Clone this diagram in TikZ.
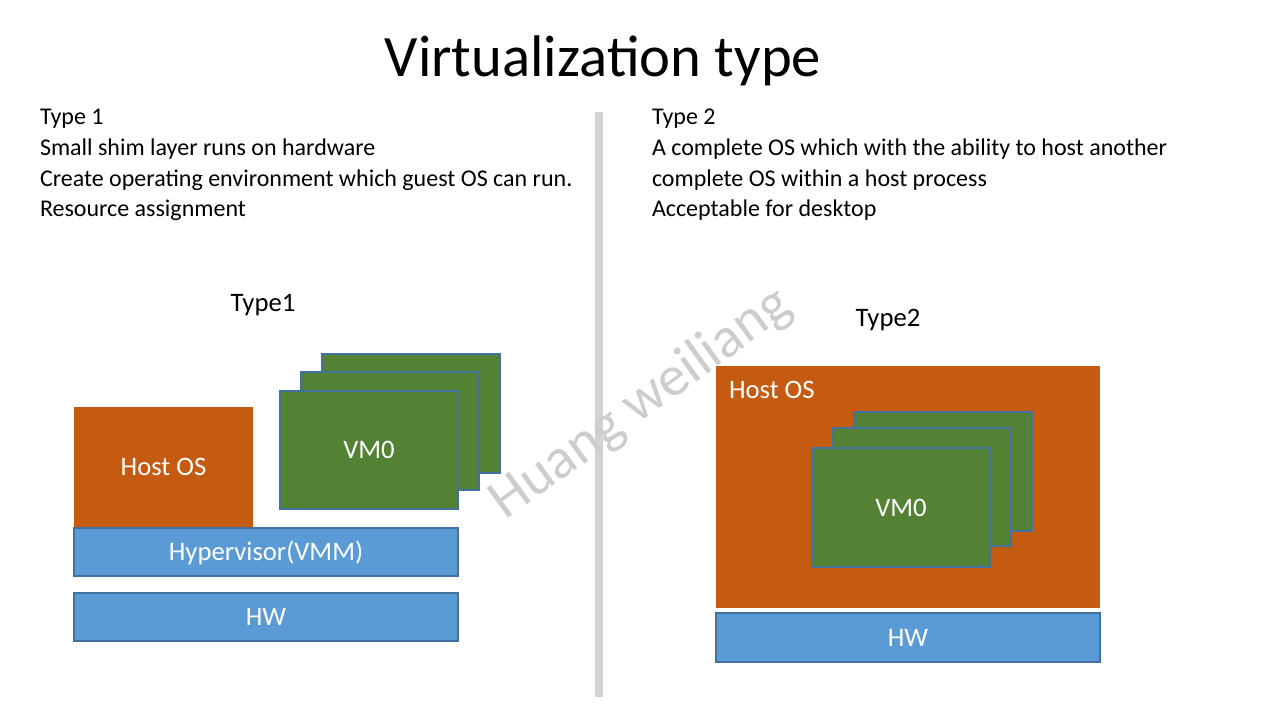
\documentclass[tikz,border=0pt]{standalone}
\usepackage{fontspec}
\setmainfont{Carlito}
\definecolor{hostorange}{HTML}{C55A11}
\definecolor{layerblue}{HTML}{5B9BD5}
\definecolor{edgeblue}{HTML}{41719C}
\definecolor{vmgreen}{HTML}{548235}
\definecolor{barGray}{HTML}{D2D2D2}
\definecolor{markGray}{HTML}{CDCDCD}
\begin{document}
\begin{tikzpicture}[x=0.75pt,y=-0.75pt,
  every node/.style={inner sep=0pt,outer sep=0pt},
  sz/.style 2 args={minimum width=#1*0.75pt,minimum height=#2*0.75pt},
  bodytext/.style={anchor=base west,font=\fontsize{18}{21.6}\selectfont},
  caption/.style={anchor=base,font=\fontsize{20}{24}\selectfont},
  blk/.style={anchor=north west,font=\fontsize{20}{24}\selectfont,text=white,
    text height=12.9pt,text depth=0pt},
  layer/.style={blk,fill=layerblue,draw=edgeblue,line width=1.4pt},
  vmbox/.style={blk,fill=vmgreen,draw=edgeblue,line width=1.4pt},
  hostbox/.style={blk,fill=hostorange}
]
\useasboundingbox (0,0) rectangle (1280,720);

% title
\node[anchor=base,font=\fontsize{44}{52}\selectfont] (title) at (603,77) {Virtualization type};

% divider between the two columns
\fill[barGray] (595,112) rectangle (603,697);

% description, left column
\node[bodytext] (l1) at (40,125) {Type 1};
\node[bodytext] (l2) at (40,155.7) {Small shim layer runs on hardware};
\node[bodytext] (l3) at (40,186.4) {Create operating environment which guest OS can run.};
\node[bodytext] (l4) at (40,217) {Resource assignment};

% description, right column
\node[bodytext] (r1) at (652,125) {Type 2};
\node[bodytext] (r2) at (652,155.7) {A complete OS which with the ability to host another};
\node[bodytext] (r3) at (652,186.4) {complete OS within a host process};
\node[bodytext] (r4) at (652,217) {Acceptable for desktop};

% ---- Type 1 stack ----
\node[caption] (cap1) at (263,311) {Type1};
\node[hostbox,sz={179}{120}] (host1) at (74,407) {Host OS};
\node[layer,sz={384}{48}] (hyp) at (74,528) {Hypervisor(VMM)};
\node[layer,sz={384}{48}] (hw1) at (74,593) {HW};
\node[vmbox,sz={178}{119}] (vm1c) at (322,354) {};
\node[vmbox,sz={178}{118}] (vm1b) at (301,372) {};
\node[vmbox,sz={178}{118}] (vm1a) at (280,391) {VM0};

% ---- Type 2 stack ----
\node[caption] (cap2) at (888,326) {Type2};
\node[hostbox,sz={384}{242}] (host2) at (716,366) {};
\node[anchor=base west,font=\fontsize{20}{24}\selectfont,text=white] (host2lbl) at (729,398) {Host OS};
\node[layer,sz={384}{49}] (hw2) at (716,613) {HW};
\node[vmbox,sz={178}{119}] (vm2c) at (854,412) {};
\node[vmbox,sz={178}{118}] (vm2b) at (833,428) {};
\node[vmbox,sz={178}{119}] (vm2a) at (812,448) {VM0};

% author mark
\node[font=\fontsize{43}{50}\selectfont,text=markGray,rotate=36] (mark) at (641,404) {Huang weiliang};
\end{tikzpicture}
\end{document}
